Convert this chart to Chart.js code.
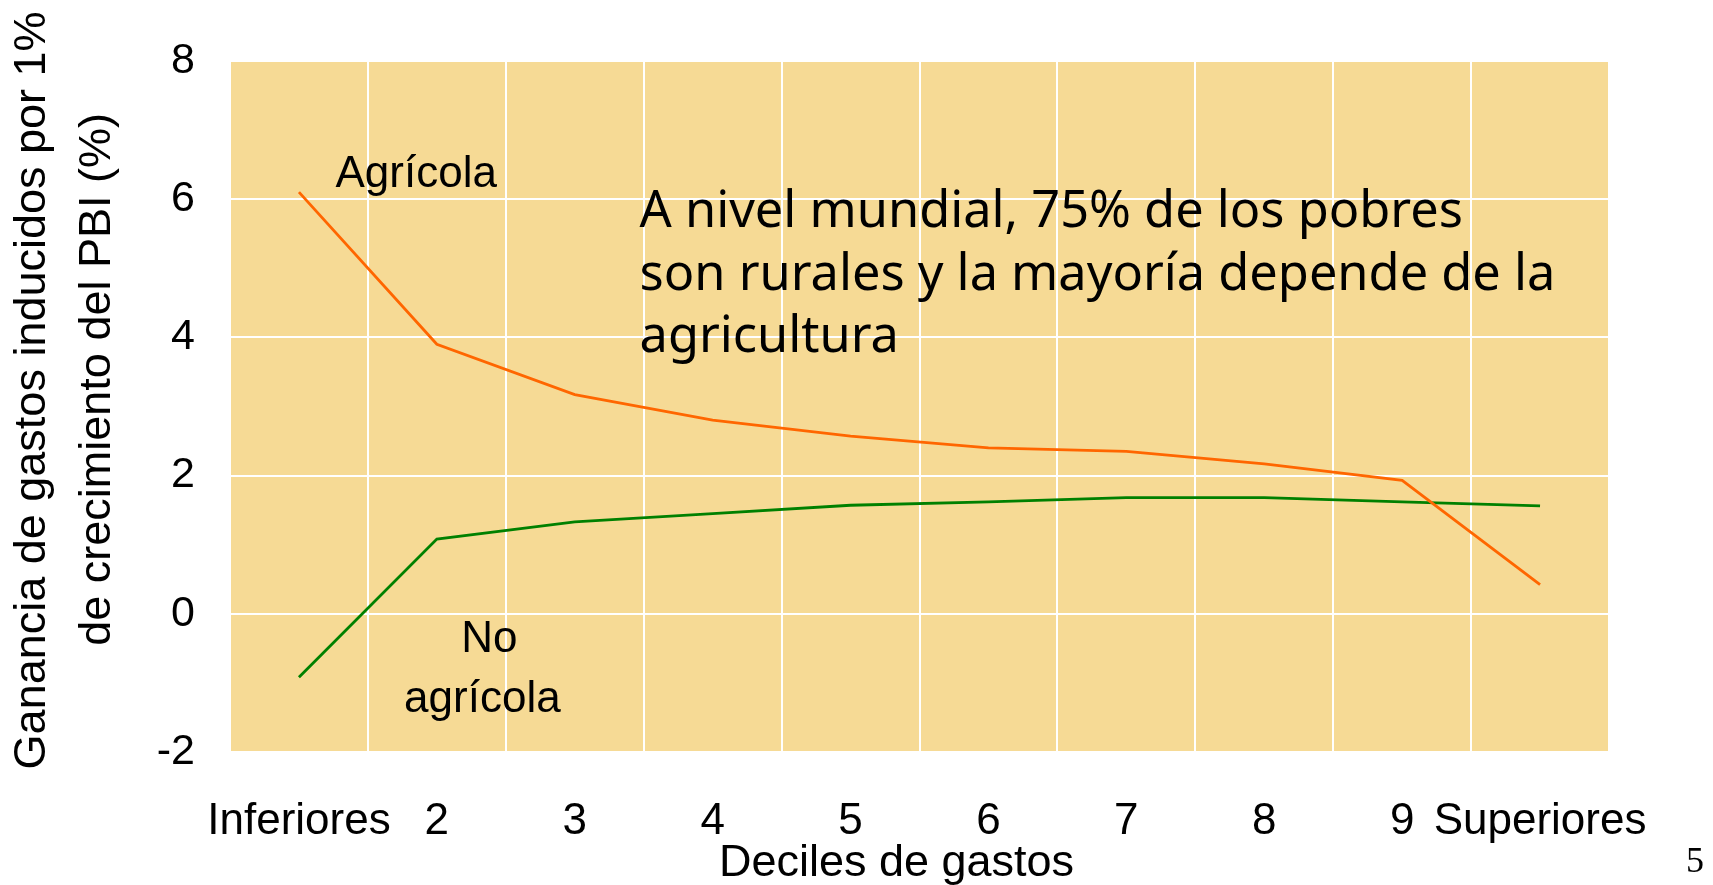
<!DOCTYPE html>
<html>
<head>
<meta charset="utf-8">
<style>
  html, body { margin:0; padding:0; background:#fff; }
  #wrap { width:1713px; height:885px; position:relative; }
</style>
<script src="https://cdn.jsdelivr.net/npm/chart.js@4.4.1/dist/chart.umd.min.js"></script>
</head>
<body>
<div id="wrap"><canvas id="chart"></canvas></div>
<script>
/* Deciles chart: gain in spending per 1% GDP growth, agricultural vs non-agricultural */

const deciles    = ['Inferiores', '2', '3', '4', '5', '6', '7', '8', '9', 'Superiores'];
const agricola   = [6.1, 3.9, 3.17, 2.8, 2.57, 2.4, 2.35, 2.17, 1.93, 0.42];
const noAgricola = [-0.92, 1.08, 1.33, 1.45, 1.57, 1.62, 1.68, 1.68, 1.62, 1.56];
const yTicks     = [-2, 0, 2, 4, 6, 8];

const yTitle = ['Ganancia de gastos inducidos por 1%', 'de crecimiento del PBI (%)'];
const xTitle = 'Deciles de gastos';
const note   = ['A nivel mundial, 75% de los pobres', 'son rurales y la mayoría depende de la', 'agricultura'];

const SANS = '"Liberation Sans", Arial, sans-serif';

// fills the plot area with the sand colour before grid lines go on top
const plotBg = {
  id: 'plotBg',
  beforeDraw(chart){
    const { ctx, chartArea:a } = chart;
    ctx.save();
    ctx.fillStyle = '#F6DA95';
    ctx.fillRect(a.left, a.top, a.right - a.left, a.bottom - a.top);
    ctx.restore();
  }
};

// axis titles sit a bit off-centre in the original, so they are placed by hand
const axisTitles = {
  id: 'axisTitles',
  afterDraw(chart){
    const { ctx } = chart;
    const a = chart.chartArea;
    const mid = (a.top + a.bottom) / 2;
    ctx.save();
    ctx.fillStyle = '#000';
    ctx.font = '45px ' + SANS;
    ctx.textAlign = 'center';
    ctx.textBaseline = 'middle';
    // y title, two rotated lines
    const yShift = [-16, -27];
    yTitle.forEach((line, k) => {
      ctx.save();
      ctx.translate(33 + k * 65, mid + yShift[k]);
      ctx.rotate(-Math.PI / 2);
      ctx.fillText(line, 0, 0);
      ctx.restore();
    });
    // x title
    ctx.fillText(xTitle, (a.left + a.right) / 2 - 23, chart.height - 21);
    ctx.restore();
  }
};

// series labels, the note and the slide number
const labels = {
  id: 'labels',
  afterDatasetsDraw(chart){
    const { ctx } = chart;
    const x = chart.scales.x, y = chart.scales.y;
    const px = i => x.getPixelForValue(0) + i * (x.getPixelForValue(1) - x.getPixelForValue(0));
    ctx.save();
    ctx.fillStyle = '#000';
    ctx.textBaseline = 'alphabetic';

    ctx.font = '44px ' + SANS;
    ctx.textAlign = 'left';
    ctx.fillText('Agrícola', px(0.265), y.getPixelForValue(6.175));
    ctx.textAlign = 'center';
    ctx.fillText('No', px(1.38), y.getPixelForValue(-0.55));
    ctx.fillText('agrícola', px(1.33), y.getPixelForValue(-1.425));

    ctx.font = '50.5px "Noto Sans", sans-serif';
    ctx.textAlign = 'left';
    const noteY = [5.6, 4.68, 3.79];
    note.forEach((line, k) => ctx.fillText(line, px(2.47), y.getPixelForValue(noteY[k])));

    ctx.font = '36px "Liberation Serif", serif';
    ctx.textAlign = 'center';
    ctx.fillText('5', chart.width - 18, chart.height - 13);
    ctx.restore();
  }
};

const ctx = document.getElementById('chart').getContext('2d');
new Chart(ctx, {
  type: 'line',
  data: {
    labels: deciles,
    datasets: [
      { label:'Agrícola', data: agricola, borderColor:'#FF6600', borderWidth:2.8,
        pointRadius:0, tension:0, fill:false },
      { label:'No agrícola', data: noAgricola, borderColor:'#008000', borderWidth:2.8,
        pointRadius:0, tension:0, fill:false }
    ]
  },
  options: {
    responsive: true,
    maintainAspectRatio: false,
    animation: false,
    layout: { padding: { top:56, right:104, left:0, bottom:0 } },
    plugins: { legend:{ display:false }, tooltip:{ enabled:false } },
    scales: {
      x: {
        offset: true,
        grid: { offset:true, color:'#FFFFFF', lineWidth:2, drawTicks:false },
        border: { display:false },
        ticks: { color:'#000', font:{ family:SANS, size:44 }, padding:43, maxRotation:0, autoSkip:false },
        afterFit(s){ s.height = 133; }
      },
      y: {
        min: -2, max: 8,
        afterBuildTicks(s){ s.ticks = yTicks.map(v => ({ value:v })); },
        grid: { color:'#FFFFFF', lineWidth:2, drawTicks:false },
        border: { display:false },
        ticks: { color:'#000', font:{ family:SANS, size:43 }, padding:35 },
        afterFit(s){ s.width = 230; }
      }
    }
  },
  plugins: [plotBg, axisTitles, labels]
});
</script>
</body>
</html>
